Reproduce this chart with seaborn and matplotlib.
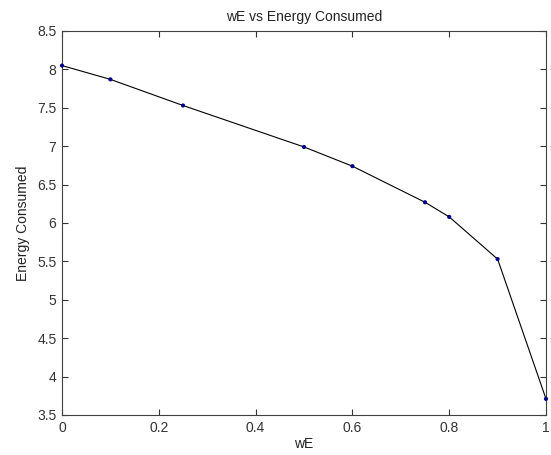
import numpy as np
import pandas as pd
import seaborn as sns
import matplotlib.pyplot as plt

# --- DATA ---
wE = [0.0, 0.1, 0.25, 0.5, 0.6, 0.75, 0.8, 0.9, 1.0]
energy = [8.05, 7.87, 7.53, 6.99, 6.74, 6.27, 6.08, 5.53, 3.71]
x_ticks = [0, 0.2, 0.4, 0.6, 0.8, 1]
x_tick_labels = ["0", "0.2", "0.4", "0.6", "0.8", "1"]
y_ticks = [3.5, 4, 4.5, 5, 5.5, 6, 6.5, 7, 7.5, 8, 8.5]
y_tick_labels = ["3.5", "4", "4.5", "5", "5.5", "6", "6.5", "7", "7.5", "8", "8.5"]

df = pd.DataFrame({"wE": wE, "Energy Consumed": energy})

# --- STYLE: MATLAB-ish look ---
sns.set_style("ticks")
plt.rcParams['font.family'] = ['Liberation Sans', 'DejaVu Sans']
plt.rcParams['xtick.direction'] = 'in'
plt.rcParams['ytick.direction'] = 'in'

fig = plt.figure(figsize=(5.51, 4.55), dpi=100)
ax = fig.add_axes([62 / 551, 1 - 415 / 455, (546 - 62) / 551, (415 - 31) / 455])

sns.lineplot(data=df, x="wE", y="Energy Consumed", color="black", linewidth=0.8, ax=ax)
sns.scatterplot(data=df, x="wE", y="Energy Consumed", color="#00008b", marker="o",
                s=9, edgecolor="none", ax=ax, zorder=3, clip_on=False)

ax.set_xlim(0, 1)
ax.set_ylim(3.5, 8.5)
ax.set_xticks(x_ticks)
ax.set_xticklabels(x_tick_labels)
ax.set_yticks(y_ticks)
ax.set_yticklabels(y_tick_labels)
ax.tick_params(top=True, right=True, length=4, width=0.8, colors="#333333",
               labelsize=10, pad=4)
for side in ax.spines.values():
    side.set_color("#404040")
    side.set_linewidth(0.8)

ax.set_title("wE vs Energy Consumed", fontsize=10, pad=7, color="#222222")
ax.set_xlabel("wE", fontsize=10, labelpad=2, color="#222222")
ax.set_ylabel("Energy Consumed", fontsize=10, labelpad=5, color="#222222")

plt.savefig("out.png", dpi=100)
